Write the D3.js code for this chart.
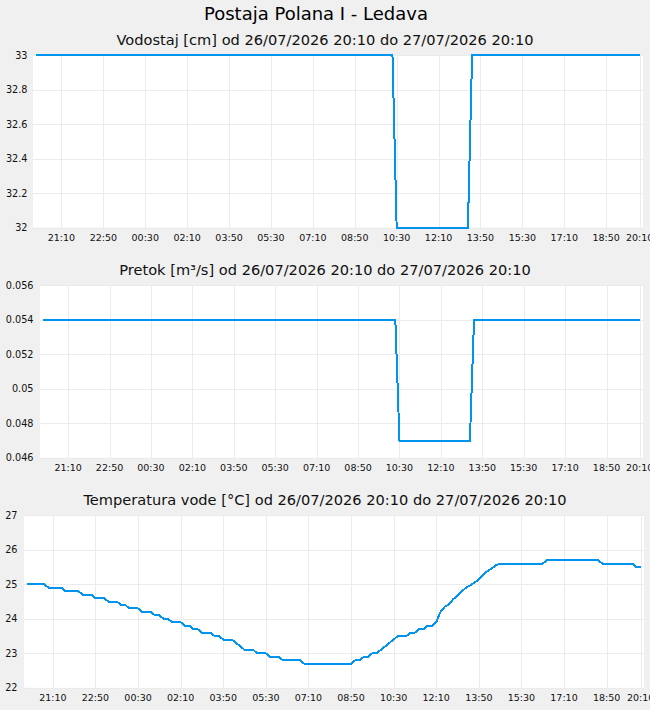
<!DOCTYPE html>
<html>
<head>
<meta charset="utf-8">
<script src="https://cdn.jsdelivr.net/npm/d3@7"></script>
<style>
  body { margin: 0; background: #f0f0f0; }
  svg { display: block; font-family: "DejaVu Sans", sans-serif; }
</style>
</head>
<body>
<svg id="chart" width="650" height="710"></svg>
<script>
// station + period
const title = "Postaja Polana I - Ledava";
const period = "od 26/07/2026 20:10 do 27/07/2026 20:10";
const startDay = "2026-07-26";

// x axis labels (every 100 min + end)
const tickLabels = ["21:10", "22:50", "00:30", "02:10", "03:50", "05:30", "07:10",
  "08:50", "10:30", "12:10", "13:50", "15:30", "17:10", "18:50", "20:10"];
const rangeTimes = ["20:10", "20:10"]; // 26/07 -> 27/07

// water level [cm]
const levelTimes = ["20:10", "10:20", "10:30", "13:20", "13:30", "20:10"];
const levelValues = [33, 33, 32, 32, 33, 33];
const levelTicks = [32, 32.2, 32.4, 32.6, 32.8, 33];

// discharge [m3/s]
const flowTimes = ["20:10", "10:20", "10:30", "13:20", "13:30", "20:10"];
const flowValues = [0.054, 0.054, 0.047, 0.047, 0.054, 0.054];
const flowTicks = [0.046, 0.048, 0.05, 0.052, 0.054, 0.056];

// water temperature [°C]
const tempTimes = ["20:10", "20:50", "21:00", "21:30", "21:40", "22:10", "22:20", "22:40",
  "22:50", "23:10", "23:20", "23:40", "23:50", "00:00", "00:10", "00:30", "00:40", "01:00",
  "01:10", "01:20", "01:30", "01:40", "01:50", "02:10", "02:20", "02:30", "02:40", "02:50",
  "03:00", "03:20", "03:30", "03:40", "03:50", "04:10", "04:20", "04:30", "04:40", "05:00",
  "05:10", "05:30", "05:40", "06:00", "06:10", "06:50", "07:00", "08:50", "09:00", "09:10",
  "09:20", "09:30", "09:40", "09:50", "10:00", "10:10", "10:20", "10:30", "10:40", "11:00",
  "11:10", "11:20", "11:30", "11:40", "11:50", "12:00", "12:10", "12:20", "12:30", "12:40",
  "12:50", "13:00", "13:10", "13:20", "13:30", "13:40", "13:50", "14:00", "14:10", "14:20",
  "14:30", "14:40", "16:20", "16:30", "18:30", "18:40", "19:50", "20:00", "20:10"];
const tempValues = [25.0, 25.0, 24.9, 24.9, 24.8, 24.8, 24.7, 24.7,
  24.6, 24.6, 24.5, 24.5, 24.4, 24.4, 24.3, 24.3, 24.2, 24.2,
  24.1, 24.1, 24.0, 24.0, 23.9, 23.9, 23.8, 23.8, 23.7, 23.7,
  23.6, 23.6, 23.5, 23.5, 23.4, 23.4, 23.3, 23.2, 23.1, 23.1,
  23.0, 23.0, 22.9, 22.9, 22.8, 22.8, 22.7, 22.7, 22.8, 22.8,
  22.9, 22.9, 23.0, 23.0, 23.1, 23.2, 23.3, 23.4, 23.5, 23.5,
  23.6, 23.6, 23.7, 23.7, 23.8, 23.8, 23.9, 24.2, 24.35, 24.42,
  24.57, 24.67, 24.8, 24.9, 24.97, 25.05, 25.14, 25.27, 25.38, 25.46,
  25.55, 25.6, 25.6, 25.7, 25.7, 25.6, 25.6, 25.5, 25.5];
const tempTicks = [22, 23, 24, 25, 26, 27];

// "HH:MM" list -> dates, rolling over to the next day when the clock goes back
function toDates(list) {
  let day = new Date(startDay + "T00:00:00");
  let prev = -1;
  return list.map(t => {
    const [h, m] = t.split(":").map(Number);
    const mins = h * 60 + m;
    if (prev >= 0 && mins <= prev) day = d3.timeDay.offset(day, 1);
    prev = mins;
    return new Date(day.getTime() + mins * 60000);
  });
}

const panels = [
  { name: "Vodostaj [cm]", times: levelTimes, values: levelValues, ticks: levelTicks,
    top: 55, left: 33, right: 643, labelX: 27.5 },
  { name: "Pretok [m³/s]", times: flowTimes, values: flowValues, ticks: flowTicks,
    top: 285.3, left: 40, right: 643, labelX: 33.5 },
  { name: "Temperatura vode [°C]", times: tempTimes, values: tempValues, ticks: tempTicks,
    top: 515.3, left: 24, right: 644, labelX: 17.5 }
];
const plotH = 172.5;

const svg = d3.select("#chart");

svg.append("text")
  .attr("x", 316)
  .attr("y", 20)
  .attr("text-anchor", "middle")
  .attr("font-size", 18)
  .attr("fill", "#000")
  .text(title);

const domain = toDates(rangeTimes);
const tickDates = toDates(tickLabels);

panels.forEach(p => {
  const bottom = p.top + plotH;
  const g = svg.append("g");

  const x = d3.scaleTime()
    .domain(domain)
    .range([p.left + 3.3, p.right - 3.3]);

  const y = d3.scaleLinear()
    .domain(d3.extent(p.ticks))
    .range([bottom, p.top]);

  g.append("text")
    .attr("x", 325)
    .attr("y", p.top - 10)
    .attr("text-anchor", "middle")
    .attr("font-size", 14.6)
    .attr("fill", "#111")
    .text(p.name + " " + period);

  g.append("rect")
    .attr("x", p.left)
    .attr("y", p.top)
    .attr("width", p.right - p.left)
    .attr("height", plotH)
    .attr("fill", "#fff");

  // grid
  g.selectAll(".vgrid")
    .data(tickDates)
    .join("line")
    .attr("x1", d => Math.round(x(d)) + 0.5)
    .attr("x2", d => Math.round(x(d)) + 0.5)
    .attr("y1", p.top)
    .attr("y2", bottom)
    .attr("stroke", "#ebebeb")
    .attr("stroke-width", 1);

  g.selectAll(".hgrid")
    .data(p.ticks)
    .join("line")
    .attr("x1", p.left)
    .attr("x2", p.right)
    .attr("y1", d => Math.round(y(d)) + 0.5)
    .attr("y2", d => Math.round(y(d)) + 0.5)
    .attr("stroke", "#ebebeb")
    .attr("stroke-width", 1);

  // tick labels
  g.selectAll(".xl")
    .data(tickDates)
    .join("text")
    .attr("x", d => x(d))
    .attr("y", bottom + 13.5)
    .attr("text-anchor", "middle")
    .attr("font-size", 9.5)
    .attr("fill", "#111")
    .text((d, i) => tickLabels[i]);

  g.selectAll(".yl")
    .data(p.ticks)
    .join("text")
    .attr("x", p.labelX)
    .attr("y", d => y(d) + 3.5)
    .attr("text-anchor", "end")
    .attr("font-size", 9.7)
    .attr("fill", "#111")
    .text(d => String(d));

  const dates = toDates(p.times);
  const line = d3.line()
    .x((d, i) => x(dates[i]))
    .y(d => y(d));

  g.append("path")
    .datum(p.values)
    .attr("fill", "none")
    .attr("stroke", "#0094ee")
    .attr("stroke-width", 2)
    .attr("shape-rendering", "crispEdges")
    .attr("d", line);
});
</script>
</body>
</html>
